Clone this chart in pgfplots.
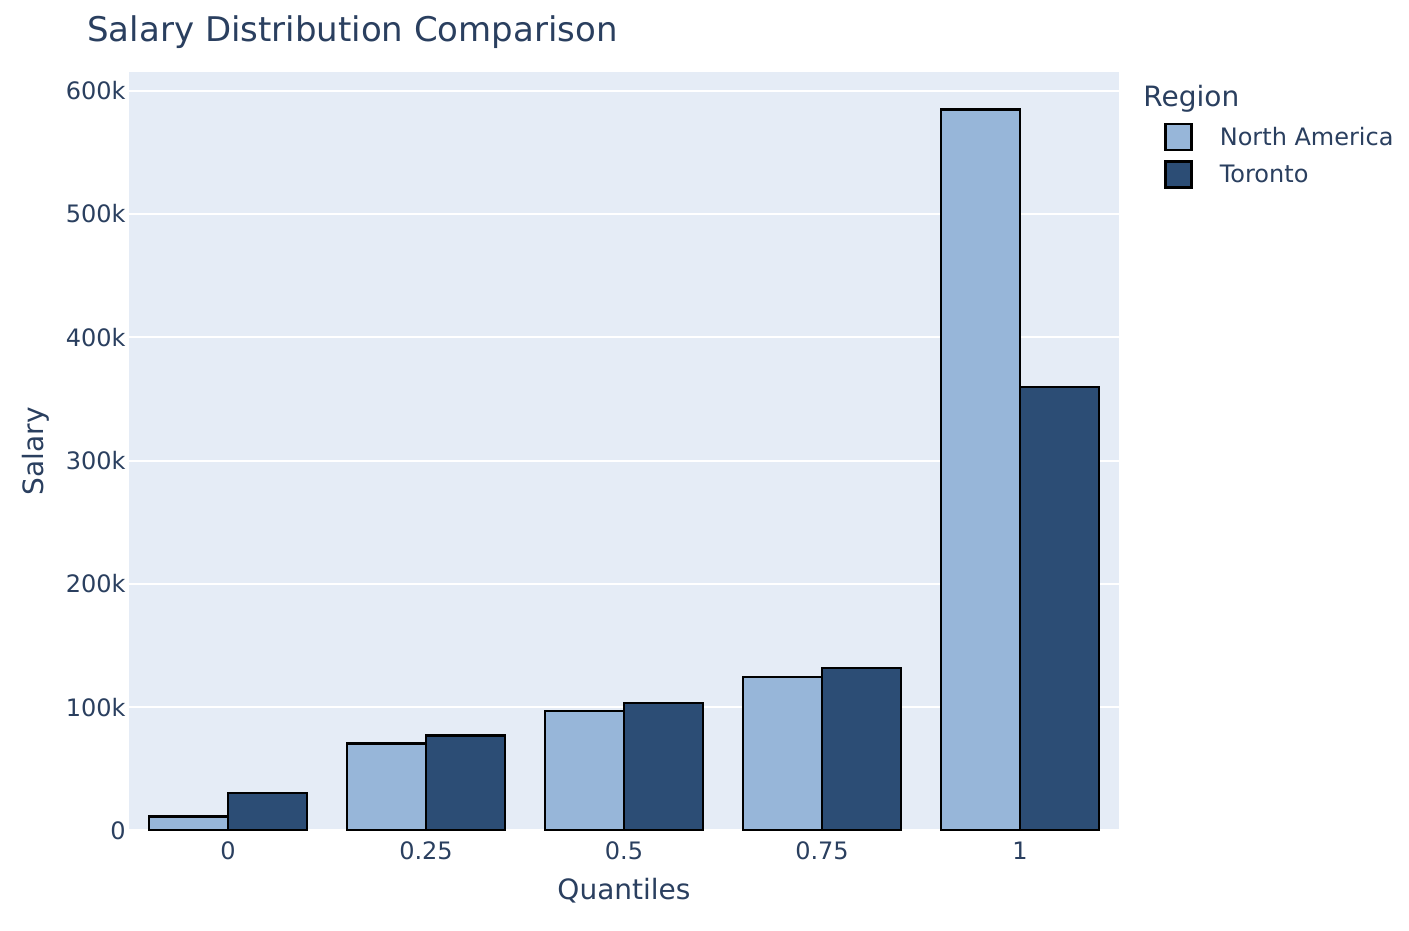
\documentclass[border=0pt]{standalone}
\usepackage{pgfplots}
\pgfplotsset{compat=1.18}
\usepackage{fontspec}
\setmainfont{DejaVu Sans}
\definecolor{txt}{RGB}{42,63,95}
\definecolor{bgc}{RGB}{229,236,246}
\definecolor{nacol}{RGB}{151,182,217}
\definecolor{tocol}{RGB}{44,77,117}
\newcommand{\fs}[1]{\fontsize{#1}{1.2\dimexpr#1\relax}\selectfont}
\begin{document}
\begin{tikzpicture}
  \path[use as bounding box] (0pt,0pt) rectangle (704.5pt,465.5pt);
  \begin{axis}[
      at={(64.5pt,50.25pt)}, anchor=south west,
      scale only axis,
      width=495pt, height=379.4pt,
      xmin=-0.5, xmax=4.5, ymin=0, ymax=615400,
      axis background/.style={fill=bgc},
      axis line style={draw=none},
      major tick length=0pt,
      xtick={0,1,2,3,4},
      xticklabels={0,0.25,0.5,0.75,1},
      ytick={0,100000,200000,300000,400000,500000,600000},
      yticklabels={0,100k,200k,300k,400k,500k,600k},
      scaled y ticks=false,
      ymajorgrids=true,
      grid style={white, line width=1pt},
      ticklabel style={font=\fs{12pt}, text=txt},
      xticklabel style={inner sep=0pt, anchor=north, yshift=-5.5pt},
      yticklabel style={inner sep=0pt, anchor=east, xshift=-1.5pt},
      xlabel={Quantiles},
      ylabel={Salary},
      label style={font=\fs{14pt}, text=txt, inner sep=0pt},
      xlabel style={at={(axis description cs:0.5,0)}, anchor=base, yshift=-34.75pt},
      ylabel style={at={(axis description cs:-0.0865,0.5)}, anchor=base},
      ybar=0pt,
      bar width=0.4,
      legend image code/.code={\draw[#1,line width=1.2pt] (0pt,-6.15pt) rectangle (13pt,6.85pt);},
      legend style={at={(1.0455,0.9328)}, anchor=north west, draw=none, fill=none,
        inner sep=0pt, row sep=4.5pt, column sep=13.5pt,
        nodes={inner sep=0pt, font=\fs{12pt}, text=txt}},
      legend cell align=left,
    ]
    \addplot[fill=nacol, draw=black, line width=1.2pt] coordinates {
      (0,11500) (1,70500) (2,97000) (3,124300) (4,584600)
    };
    \addlegendentry{North America}
    \addplot[fill=tocol, draw=black, line width=1.2pt] coordinates {
      (0,30200) (1,77000) (2,103500) (3,131600) (4,359500)
    };
    \addlegendentry{Toronto}
  \end{axis}
  \node[anchor=base west, inner sep=0pt, text=txt, font=\fs{17pt}] at (43.5pt,444.5pt) {Salary Distribution Comparison};
  \node[anchor=base west, inner sep=0pt, text=txt, font=\fs{14pt}] at (571.5pt,412pt) {Region};
\end{tikzpicture}
\end{document}
